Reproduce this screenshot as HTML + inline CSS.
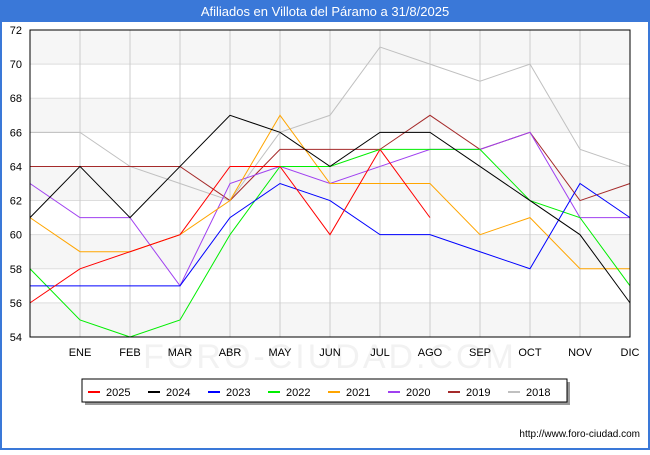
<!DOCTYPE html>
<html><head><meta charset="utf-8"><style>body{margin:0;width:650px;height:450px;overflow:hidden;background:#fff;font-family:"Liberation Sans",sans-serif}</style></head><body>
<svg width="650" height="450" xmlns="http://www.w3.org/2000/svg" font-family="Liberation Sans, sans-serif">
<rect x="0" y="0" width="650" height="450" fill="#fff"/>
<rect x="1" y="1" width="648" height="448" fill="none" stroke="#3a78d8" stroke-width="2"/>
<rect x="0" y="0" width="650" height="22" fill="#3a78d8"/>
<text x="325" y="16" font-size="13" fill="#fff" text-anchor="middle">Afiliados en Villota del Páramo a 31/8/2025</text>
<g id="plot"></g>
<g font-size="11" fill="#000">
<text x="640" y="437" text-anchor="end" font-size="10">http://www.foro-ciudad.com</text>
</g>
</svg>
<script>
const g=document.getElementById('plot');
const Y=v=>30+(72-v)*307/18, X=i=>30+50*i;
let h='';
for(let v=54;v<72;v+=4){h+=`<rect x="30" y="${Y(v+2)}" width="600" height="${307/9}" fill="#f6f6f6"/>`;}
h+=`<text x="330" y="368" font-size="34" fill="#f2f2f2" text-anchor="middle" letter-spacing="3">FORO-CIUDAD.COM</text>`;
for(let v=54;v<=72;v+=2){h+=`<line x1="30" x2="630" y1="${Y(v)}" y2="${Y(v)}" stroke="#ddd"/>`;h+=`<text x="22" y="${Y(v)+4}" font-size="11" text-anchor="end">${v}</text>`;}
const m=['ENE','FEB','MAR','ABR','MAY','JUN','JUL','AGO','SEP','OCT','NOV','DIC'];
m.forEach((t,i)=>{h+=`<line x1="${X(i+1)}" x2="${X(i+1)}" y1="30" y2="337" stroke="#ccc"/>`;h+=`<text x="${X(i+1)}" y="356" font-size="11" text-anchor="middle">${t}</text>`;});
const S=[
['2018','#c0c0c0',[66,66,64,63,62,66,67,71,70,69,70,65,64]],
['2019','#a52a2a',[64,64,64,64,62,65,65,65,67,65,66,62,63]],
['2020','#a040f0',[63,61,61,57,63,64,63,64,65,65,66,61,61]],
['2021','#ffa500',[61,59,59,60,62,67,63,63,63,60,61,58,58]],
['2022','#00ee00',[58,55,54,55,60,64,64,65,65,65,62,61,57]],
['2023','#0000ff',[57,57,57,57,61,63,62,60,60,59,58,63,61]],
['2024','#000000',[61,64,61,64,67,66,64,66,66,64,62,60,56]],
['2025','#ff0000',[56,58,59,60,64,64,60,65,61]]];
S.forEach(s=>{h+=`<polyline fill="none" stroke="${s[1]}" stroke-width="1" points="${s[2].map((v,i)=>X(i)+','+Y(v)).join(' ')}"/>`;});
h+=`<rect x="30" y="30" width="600" height="307" fill="none" stroke="#000"/>`;
h+=`<rect x="85" y="382" width="485" height="23" fill="#999"/><rect x="82" y="379" width="485" height="23" fill="#fff" stroke="#000"/>`;
const L=[['2025','#ff0000'],['2024','#000'],['2023','#0000ff'],['2022','#00ee00'],['2021','#ffa500'],['2020','#a040f0'],['2019','#a52a2a'],['2018','#c0c0c0']];
L.forEach((l,i)=>{const x=88+i*60;h+=`<line x1="${x}" x2="${x+12}" y1="392" y2="392" stroke="${l[1]}" stroke-width="2"/><text x="${x+18}" y="396" font-size="11">${l[0]}</text>`;});
g.innerHTML=h;
</script>
</body></html>
